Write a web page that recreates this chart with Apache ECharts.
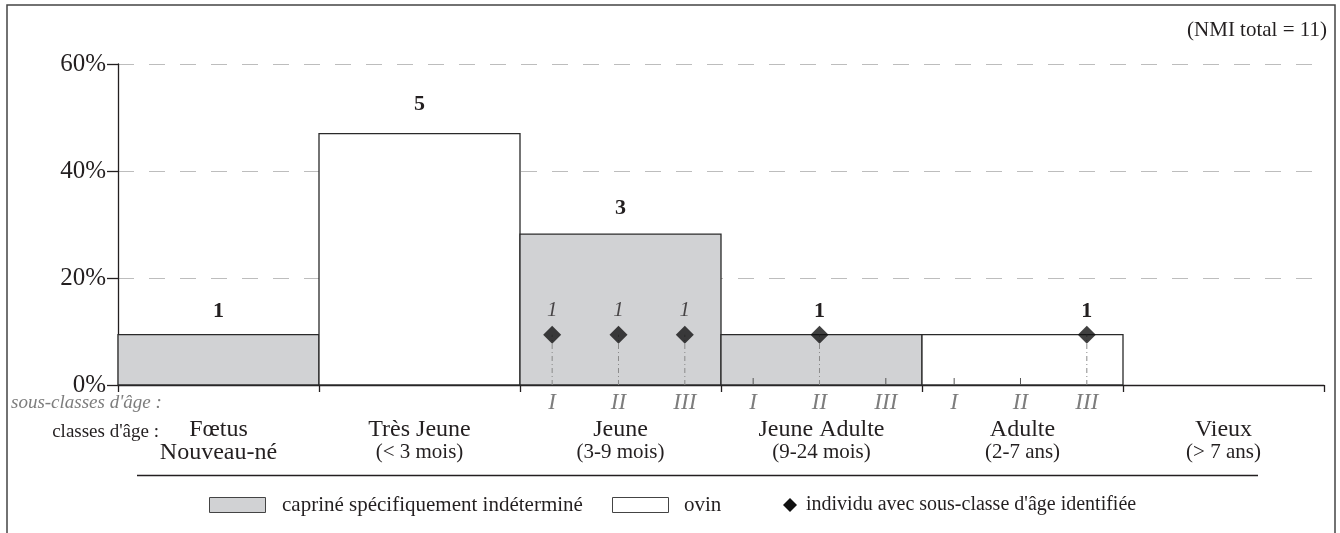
<!DOCTYPE html>
<html><head><meta charset="utf-8">
<script src="https://cdn.jsdelivr.net/npm/echarts@6/dist/echarts.min.js"></script>
<style>html,body{margin:0;padding:0;background:#fff}#c{width:1340px;height:533px}</style>
</head><body><div id="c"></div>
<script>
// ---- data ----
const classNames = ['Fœtus', 'Très Jeune', 'Jeune', 'Jeune Adulte', 'Adulte', 'Vieux'];
const classRanges = ['Nouveau-né', '(< 3 mois)', '(3-9 mois)', '(9-24 mois)', '(2-7 ans)', '(> 7 ans)'];
const percentages = [9.4, 47, 28.2, 9.4, 9.4, 0];
const nmiCounts = [1, 5, 3, 1, 1, 0];
const speciesGroup = ['caprin', 'ovin', 'caprin', 'caprin', 'ovin', null];
const subClassLabels = ['I', 'II', 'III'];
const subClassedClasses = [2, 3, 4];
const individualClass = [2, 2, 2, 3, 4];
const individualSubClass = [0, 1, 2, 1, 2];
const individualCount = [1, 1, 1, 1, 1];
const individualPct = [9.4, 9.4, 9.4, 9.4, 9.4];
const yTicks = [0, 20, 40, 60];
const legendLabels = ['capriné spécifiquement indéterminé', 'ovin', "individu avec sous-classe d'âge identifiée"];
const rowLabels = ["sous-classes d'âge :", "classes d'âge :"];
const nmiTotal = 11;

// ---- style ----
const FONT = "'Liberation Serif', 'Times New Roman', serif";
const GRAY = '#d1d2d4';
const INK = '#231f20';
const SUBGRAY = '#7d7d7d';
const subOffsets = [0.16, 0.49, 0.82];

function individualsIn(c) {
  const r = [];
  individualClass.forEach((k, j) => { if (k === c) r.push(j); });
  return r;
}

const chart = echarts.init(document.getElementById('c'), null, {renderer: 'canvas'});

const option = {
  animation: false,
  backgroundColor: '#fff',
  textStyle: {fontFamily: FONT},
  grid: {left: 118, right: 16, top: 64, bottom: 148, containLabel: false},
  xAxis: [{
    type: 'value', min: 0, max: classNames.length, interval: 1,
    axisLine: {show: true, lineStyle: {color: INK, width: 1.3}},
    axisTick: {show: true, inside: false, length: 7, lineStyle: {color: INK, width: 1.3}},
    axisLabel: {show: false},
    splitLine: {show: false}
  }, {
    type: 'category', data: classNames, position: 'bottom', boundaryGap: true,
    axisLine: {show: false}, axisTick: {show: false}, splitLine: {show: false},
    axisLabel: {
      interval: 0, margin: 33, color: INK,
      formatter: (v, i) => i === 0 ? '{a|' + v + '}\n{a|' + classRanges[i] + '}' : '{a|' + v + '}\n{b|' + classRanges[i] + '}',
      rich: {
        a: {fontFamily: FONT, fontSize: 24, lineHeight: 23, color: INK},
        b: {fontFamily: FONT, fontSize: 21, lineHeight: 22, color: INK}
      }
    }
  }],
  yAxis: {
    type: 'value', min: yTicks[0], max: yTicks[yTicks.length - 1], interval: yTicks[1] - yTicks[0],
    axisLine: {show: true, lineStyle: {color: INK, width: 1.3}},
    axisTick: {show: true, length: 11, lineStyle: {color: INK, width: 1.3}},
    axisLabel: {formatter: '{value}%', fontFamily: FONT, fontSize: 25, color: INK, margin: 12},
    splitLine: {show: true, lineStyle: {color: '#bdbdbd', width: 1, type: [16, 15]}}
  },
  series: [
    {
      name: 'bars', type: 'custom', xAxisIndex: 0, yAxisIndex: 0, z: 2,
      data: percentages.map((v, i) => [i, v]),
      renderItem(params, api) {
        const i = api.value(0), v = api.value(1);
        if (!v) return null;
        const p0 = api.coord([i, v]), p1 = api.coord([i + 1, 0]);
        return {
          type: 'rect',
          shape: {x: p0[0], y: p0[1], width: p1[0] - p0[0], height: p1[1] - p0[1]},
          style: {fill: speciesGroup[i] === 'caprin' ? GRAY : '#fff', stroke: '#2a2a2a', lineWidth: 1.3}
        };
      }
    },
    {
      name: 'subclasses', type: 'custom', xAxisIndex: 0, yAxisIndex: 0, z: 3,
      data: subClassedClasses.flatMap(c => subClassLabels.map((s, k) => [c + subOffsets[k], 0, c, k])),
      renderItem(params, api) {
        const x = api.value(0), c = api.value(2), k = api.value(3);
        const base = api.coord([x, 0]);
        const ind = individualsIn(c).find(j => individualSubClass[j] === k);
        const children = [{
          type: 'text', x: base[0], y: base[1] + 18,
          style: {text: subClassLabels[k], fontFamily: FONT, fontStyle: 'italic', fontSize: 23, fill: SUBGRAY, align: 'center', verticalAlign: 'middle'}
        }];
        if (ind === undefined) {
          children.push({type: 'line', shape: {x1: base[0], y1: base[1], x2: base[0], y2: base[1] - 7}, style: {stroke: '#555', lineWidth: 1}});
        } else {
          const top = api.coord([x, individualPct[ind]]);
          children.push({type: 'line', shape: {x1: base[0], y1: base[1], x2: base[0], y2: top[1]}, style: {stroke: '#8a8a8a', lineWidth: 1, lineDash: [5, 3, 1, 3]}});
        }
        return {type: 'group', children};
      }
    },
    {
      name: 'individus', type: 'scatter', xAxisIndex: 0, yAxisIndex: 0, z: 5,
      symbol: 'diamond', symbolSize: [18, 18],
      itemStyle: {color: '#111'},
      data: individualClass.map((c, j) => ({
        value: [c + subOffsets[individualSubClass[j]], individualPct[j]],
        label: {
          show: individualsIn(c).length > 1,
          formatter: String(individualCount[j]),
          position: 'top', distance: 5,
          fontFamily: FONT, fontStyle: 'italic', fontSize: 21, color: INK
        }
      }))
    },
    {
      name: 'counts', type: 'custom', xAxisIndex: 0, yAxisIndex: 0, z: 6,
      data: nmiCounts.map((n, i) => [i, percentages[i], n]),
      renderItem(params, api) {
        const i = api.value(0), v = api.value(1), n = api.value(2);
        if (!n) return null;
        const inds = individualsIn(i);
        let x = i + 0.5;
        if (inds.length === 1 && n === 1) x = i + subOffsets[individualSubClass[inds[0]]];
        const p = api.coord([x, v]);
        return {
          type: 'text', x: p[0], y: p[1] - 22 - 0.15 * v,
          style: {text: String(n), fontFamily: FONT, fontWeight: 'bold', fontSize: 22, fill: INK, align: 'center', verticalAlign: 'middle'}
        };
      }
    }
  ],
  graphic: [
    {type: 'rect', shape: {x: 7, y: 5, width: 1328, height: 600}, style: {fill: 'none', stroke: '#444', lineWidth: 1.5}, silent: true},
    {type: 'text', x: 1327, y: 30, style: {text: '(NMI total = ' + nmiTotal + ')', fontFamily: FONT, fontSize: 21, fill: INK, align: 'right', verticalAlign: 'middle'}},
    {type: 'text', x: 11, y: 403, style: {text: rowLabels[0], fontFamily: FONT, fontStyle: 'italic', fontSize: 19, fill: SUBGRAY, align: 'left', verticalAlign: 'middle'}},
    {type: 'text', x: 159, y: 432, style: {text: rowLabels[1], fontFamily: FONT, fontSize: 19, fill: INK, align: 'right', verticalAlign: 'middle'}},
    {type: 'line', shape: {x1: 137, y1: 475.5, x2: 1258, y2: 475.5}, style: {stroke: INK, lineWidth: 1.3}},
    {type: 'rect', shape: {x: 209.5, y: 497.5, width: 56, height: 15}, style: {fill: GRAY, stroke: '#444', lineWidth: 1}},
    {type: 'text', x: 282, y: 505, style: {text: legendLabels[0], fontFamily: FONT, fontSize: 21, fill: INK, verticalAlign: 'middle'}},
    {type: 'rect', shape: {x: 612.5, y: 497.5, width: 56, height: 15}, style: {fill: '#fff', stroke: '#444', lineWidth: 1}},
    {type: 'text', x: 684, y: 505, style: {text: legendLabels[1], fontFamily: FONT, fontSize: 21, fill: INK, verticalAlign: 'middle'}},
    {type: 'polygon', shape: {points: [[790, 498], [797, 505], [790, 512], [783, 505]]}, style: {fill: '#111'}},
    {type: 'text', x: 806, y: 505, style: {text: legendLabels[2], fontFamily: FONT, fontSize: 20, fill: INK, verticalAlign: 'middle'}}
  ]
};
chart.setOption(option);
</script>
</body></html>
